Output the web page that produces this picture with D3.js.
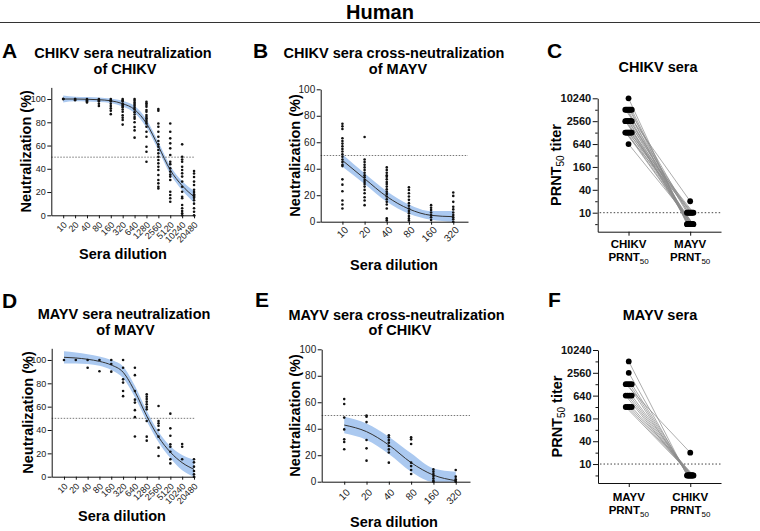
<!DOCTYPE html>
<html><head><meta charset="utf-8">
<script src="https://cdn.jsdelivr.net/npm/d3@7"></script>
<style>
body{margin:0;background:#fff}
svg{display:block}
text{font-family:"Liberation Sans",Arial,Helvetica,sans-serif}
</style>
</head><body>
<svg id="c" width="760" height="531"></svg>
<script>
// ---------- shared categories / ticks ----------
const dilutionsLong = ["10","20","40","80","160","320","640","1280","2560","5120","10240","20480"];
const dilutionsShort = ["10","20","40","80","160","320"];
const pctTicks = [0,20,40,60,80,100];
const titerTicks = [10,40,160,640,2560,10240];
const titerMinorTicks = [5,20,80,320,1280,5120];

// ---------- Panel A: CHIKV sera neutralization of CHIKV ----------
const aPoints = [
  [100,100,100],
  [100,100,99],
  [100,99,98,97],
  [100,99,98,96,94],
  [100,99,98,96,94,92,90,87],
  [100,99,98,96,95,94,93,91,89,86,84,82,78],
  [100,98.6,97,95.7,94.3,92.6,91,88.7,86.7,84.5,83,80,76,73,66.8],
  [97.7,96.3,94.8,93.4,90.5,89,86.2,84.8,83.4,82,80.5,79,76.2,71.9,67.6,59,54.7,46.1],
  [91.4,90,79,76.2,71.9,67.6,63.9,61,59,56.1,53.3,50.4,47.6,44.7,41.8,39,34.7,30.4,27.5,24.6,23],
  [79,71.9,66.2,61.9,57.6,51.9,46.1,44,40.4,37.6,35,33.3,30.4,20.3,17.4,14.6,11.7],
  [61,50.4,48,46.1,41.8,39,36.1,33.3,29,24.6,20.3,16,14.6,8.9,6,3.7,1.7,0],
  [38,36,33,29,26,22,20,18,17,16,15,13,10,6,3,0]
];
const aCurve    = [100,100,99.8,99.4,98.5,96,91,79,59.5,39,25.5,16];
const aBandLow  = [97,98,97.8,97.4,96.5,93.5,88,75.5,56,35.5,21.5,11];
const aBandHigh = [103,102,101.8,101.4,100.5,98.5,94,82.5,63,42.5,29.5,21];

// ---------- Panel B: CHIKV sera cross-neutralization of MAYV ----------
const bPoints = [
  [74,72,70,63,61,59,57,55,53,51,49,47,45,43,42,32,28,23,16,13,10],
  [64,47,45,43,41,39,37,35,33.5,31.5,30,28.5,26.5,24,21.5,18.5,16,12.5],
  [41,39,37,35,34,32,30,28.5,26.5,24.5,22.7,21,19,17,15,13,10,2.5,1],
  [26,24,21.5,19,16.5,14,12,10,8,6.3,4.3,2.5,1],
  [12.5,10.5,8.8,7,5,3.3,1.3],
  [22,19.5,15,11.3,9.3,7,5,3.3,1.8,0]
];
const bCurve    = [46.3,32.5,19,9.6,4.8,3.8];
const bBandLow  = [41.5,28.5,15,6,1.5,0];
const bBandHigh = [51,36.5,23,13,8,8];

// ---------- Panel C: CHIKV sera PRNT50 ----------
const cGroups = ["CHIKV","MAYV"];
const cChikvTiter = [10240,5120,5120,5120,5120,5120,5120,2560,2560,2560,2560,2560,2560,2560,2560,1280,1280,1280,1280,1280,1280,1280,1280,640];
const cMayvTiter  = [5,20,10,5,10,5,5,10,5,5,10,5,10,5,5,10,5,5,10,5,10,5,5,5];

// ---------- Panel D: MAYV sera neutralization of MAYV ----------
const dPoints = [
  [100],
  [100],
  [100,93.4],
  [100,90.3],
  [100,96.6,90],
  [100,93.4,83.4,80.6,73.4,69],
  [93.4,87,73.4,66,63.5,57,51,34.5],
  [70.6,68.6,66.6,64.3,62,59.7,57.7,47.7,34.3,30.9],
  [60.6,47.7,45.7,43.7,40,34.3,24.9,17.7],
  [54,41.4,35.1,27.7,25.7,21.4,14.9,11.4],
  [28,25.7,14.9],
  [14.9,12.3,8.6,4.9,2,0]
];
const dCurve    = [102.3,101.7,100.6,98.8,95.7,89.5,73,52,34,21,12,6.3];
const dBandLow  = [97,97,96.5,95,91.5,84.5,68,47.5,29.5,16,5.5,0];
const dBandHigh = [107.5,106.5,105,103,100,94.5,78,56.5,38.5,26,18.5,14.5];

// ---------- Panel E: MAYV sera cross-neutralization of CHIKV ----------
const ePoints = [
  [62.4,58.7,48.4,39.5,32,30,24.5],
  [50,49,45,31.5,25.2,15.9],
  [35,33.5,31.5,29.5,27,24.4,22,14.4],
  [33.5,32,28.5,14.4,11.8,8.8,5.8],
  [9.3,7.6,5.8,4.3,2.5,0.8,0],
  [8.8,3.8,1.8,0.5,0]
];
const eCurve    = [42.8,37.8,27.7,14.4,5,0.8];
const eBandLow  = [36.5,31.5,21,7.6,0,0];
const eBandHigh = [49,44,34,21.4,10,7.5];

// ---------- Panel F: MAYV sera PRNT50 ----------
const fGroups = ["MAYV","CHIKV"];
const fMayvTiter  = [5120,2560,1280,1280,1280,1280,640,640,640,640,320,320,320,320];
const fChikvTiter = [5,5,20,5,5,5,5,5,5,5,5,5,5,5];

// =====================================================
const svg = d3.select("#c");
const FONT_BOLD = 700;

svg.append("text").attr("x",380).attr("y",18.5).attr("text-anchor","middle")
  .attr("font-size",20).attr("font-weight",FONT_BOLD).text("Human");
svg.append("line").attr("x1",0).attr("x2",760).attr("y1",22.5).attr("y2",22.5)
  .attr("stroke","#333").attr("stroke-width",1);

function panelLetter(t,x,y){
  svg.append("text").attr("x",x).attr("y",y).attr("font-size",21)
    .attr("font-weight",FONT_BOLD).text(t);
}
function titleLines(lines){
  lines.forEach(l=>svg.append("text").attr("x",l[1]).attr("y",l[2]).attr("text-anchor","middle")
    .attr("font-size",14.5).attr("font-weight",FONT_BOLD).text(l[0]));
}

function dosePanel(cfg){
  const g = svg.append("g");
  const x = d3.scaleLinear().domain(cfg.xDomain).range(cfg.xRange);
  const y = d3.scaleLinear().domain(cfg.yDomain).range(cfg.yRange);
  const n = cfg.cats.length;
  const band = cfg.bandLow.map((v,i)=>({i, lo:v, hi:cfg.bandHigh[i]}));
  g.append("path").datum(band)
    .attr("d", d3.area().x(d=>x(d.i)).y0(d=>y(d.lo)).y1(d=>y(d.hi)).curve(d3.curveMonotoneX))
    .attr("fill","#abc9f0");
  g.append("line").attr("x1",cfg.xRange[0]).attr("x2",cfg.xRange[1])
    .attr("y1",y(50)).attr("y2",y(50))
    .attr("stroke","#555").attr("stroke-width",0.8).attr("stroke-dasharray","1.5,1.5");
  g.append("path").datum(cfg.curve.map((v,i)=>({i,v})))
    .attr("d", d3.line().x(d=>x(d.i)).y(d=>y(d.v)).curve(d3.curveMonotoneX))
    .attr("fill","none").attr("stroke","#333").attr("stroke-width",1);
  const pts = [];
  cfg.points.forEach((vals,i)=>vals.forEach(v=>pts.push({i,v})));
  g.selectAll("circle.pt").data(pts).join("circle").attr("class","pt")
    .attr("cx",d=>x(d.i)).attr("cy",d=>y(d.v)).attr("r",1.3).attr("fill","#111");
  const ya = g.append("g").attr("transform",`translate(${cfg.xRange[0]},0)`)
    .call(d3.axisLeft(y).tickValues(pctTicks).tickSize(4).tickSizeOuter(0).tickPadding(1.5));
  ya.selectAll("text").attr("font-size",cfg.tickFont).attr("fill","#222")
    .attr("font-family","'Liberation Sans',Arial,sans-serif");
  const xa = g.append("g").attr("transform",`translate(0,${cfg.yRange[0]})`)
    .call(d3.axisBottom(x).tickValues(d3.range(n)).tickFormat(i=>cfg.cats[i]).tickSize(3).tickSizeOuter(0));
  xa.selectAll("text").attr("font-size",cfg.tickFont).attr("fill","#222")
    .attr("font-family","'Liberation Sans',Arial,sans-serif")
    .attr("x",0).attr("y",0).attr("dy","0.35em").attr("text-anchor","end")
    .attr("transform",`translate(${cfg.lblOff[0]},${cfg.lblOff[1]}) rotate(-45)`);
  g.selectAll(".domain").attr("stroke","#111").attr("stroke-width",1);
  g.selectAll(".tick line").attr("stroke","#111");
  svg.append("text").attr("x",cfg.xTitle[0]).attr("y",cfg.xTitle[1]).attr("text-anchor","middle")
    .attr("font-size",14.5).attr("font-weight",FONT_BOLD).text("Sera dilution");
  const yc = (cfg.yRange[0]+cfg.yRange[1])/2;
  svg.append("text").attr("transform",`translate(${cfg.yTitleX},${yc}) rotate(-90)`)
    .attr("text-anchor","middle").attr("font-size",14.5).attr("font-weight",FONT_BOLD)
    .text("Neutralization (%)");
}

function pairPanel(cfg){
  const g = svg.append("g");
  const x = d3.scaleLinear().domain([-0.5,1.5]).range(cfg.xRange);
  const y = d3.scaleLog().base(2).domain([3.16,10240]).range(cfg.yRange);
  g.append("line").attr("x1",cfg.xRange[0]+2).attr("x2",cfg.xRange[1])
    .attr("y1",y(10)).attr("y2",y(10))
    .attr("stroke","#444").attr("stroke-width",1).attr("stroke-dasharray","1.5,2");
  function offsets(vals){
    const counts = {}, seen = {};
    vals.forEach(v=>counts[v]=(counts[v]||0)+1);
    return vals.map(v=>{
      const k = counts[v]; const j = seen[v]=(seen[v]===undefined?0:seen[v]+1);
      if(k===1) return 0;
      const span = Math.min(6.5,(k-1)*2);
      return -span/2 + span*j/(k-1);
    });
  }
  const o1 = offsets(cfg.left), o2 = offsets(cfg.right);
  const pairs = cfg.left.map((v,i)=>({a:v,b:cfg.right[i],oa:o1[i],ob:o2[i]}));
  g.selectAll("line.pair").data(pairs).join("line").attr("class","pair")
    .attr("x1",d=>x(0)+d.oa).attr("y1",d=>y(d.a))
    .attr("x2",d=>x(1)+d.ob).attr("y2",d=>y(d.b))
    .attr("stroke","#8a8a8a").attr("stroke-width",0.7);
  const dots = [];
  pairs.forEach(p=>{dots.push({c:0,v:p.a,o:p.oa});dots.push({c:1,v:p.b,o:p.ob});});
  g.selectAll("circle.d").data(dots).join("circle").attr("class","d")
    .attr("cx",d=>x(d.c)+d.o).attr("cy",d=>y(d.v)).attr("r",2.9).attr("fill","#000");
  const ya = g.append("g").attr("transform",`translate(${cfg.xRange[0]},0)`)
    .call(d3.axisLeft(y).tickValues(titerTicks).tickFormat(d3.format("d")).tickSize(5).tickSizeOuter(0).tickPadding(1.5));
  ya.selectAll("text").attr("font-size",11).attr("font-weight",FONT_BOLD).attr("fill","#111")
    .attr("font-family","'Liberation Sans',Arial,sans-serif");
  const ym = g.append("g").attr("transform",`translate(${cfg.xRange[0]},0)`)
    .call(d3.axisLeft(y).tickValues(titerMinorTicks).tickFormat("").tickSize(2.5).tickSizeOuter(0));
  ym.select(".domain").remove();
  g.append("g").attr("transform",`translate(0,${cfg.yRange[0]})`)
    .call(d3.axisBottom(x).tickValues([0,1]).tickFormat("").tickSize(4).tickSizeOuter(0));
  g.selectAll(".domain").attr("stroke","#111").attr("stroke-width",1);
  g.selectAll(".tick line").attr("stroke","#111");
  cfg.groups.forEach((name,i)=>{
    svg.append("text").attr("x",x(i)).attr("y",cfg.xLbl[0]).attr("text-anchor","middle")
      .attr("font-size",11.5).attr("font-weight",FONT_BOLD).text(name);
    const t = svg.append("text").attr("x",x(i)).attr("y",cfg.xLbl[1]).attr("text-anchor","middle")
      .attr("font-size",11.5).attr("font-weight",FONT_BOLD);
    t.append("tspan").text("PRNT");
    t.append("tspan").attr("font-size",8).attr("font-weight",400).attr("dy",2.5).text("50");
  });
  const yc = (cfg.yRange[0]+cfg.yRange[1])/2;
  const t = svg.append("text").attr("transform",`translate(${cfg.yTitleX},${yc}) rotate(-90)`)
    .attr("text-anchor","middle").attr("font-size",14.5).attr("font-weight",FONT_BOLD);
  t.append("tspan").text("PRNT");
  t.append("tspan").attr("font-size",10).attr("font-weight",400).attr("dy",3).text("50");
  t.append("tspan").attr("dy",-3).text(" titer");
}

// ---- Panel A ----
panelLetter("A",2,58);
titleLines([["CHIKV sera neutralization",123,58],["of CHIKV",125,73.5]]);
dosePanel({cats:dilutionsLong, points:aPoints, curve:aCurve, bandLow:aBandLow, bandHigh:aBandHigh,
  xDomain:[-1,11.08], xRange:[51.3,195], yDomain:[0,110], yRange:[215.3,87.4],
  tickFont:9, lblOff:[1.5,8], xTitle:[123,259], yTitleX:31});

// ---- Panel B ----
panelLetter("B",253,58);
titleLines([["CHIKV sera cross-neutralization",394,57.5],["of MAYV",398,74]]);
dosePanel({cats:dilutionsShort, points:bPoints, curve:bCurve, bandLow:bBandLow, bandHigh:bBandHigh,
  xDomain:[-0.98,5.665], xRange:[320.7,468], yDomain:[0,100], yRange:[221.7,89.3],
  tickFont:10, lblOff:[3.5,6.5], xTitle:[394,270], yTitleX:300});

// ---- Panel C ----
panelLetter("C",547,58);
titleLines([["CHIKV sera",658,71.5]]);
pairPanel({groups:cGroups, left:cChikvTiter, right:cMayvTiter,
  xRange:[597.7,721], yRange:[231.7,98.3], xLbl:[248,261], yTitleX:561});

// ---- Panel D ----
panelLetter("D",2,308);
titleLines([["MAYV sera neutralization",124,318.5],["of MAYV",125.5,335]]);
dosePanel({cats:dilutionsLong, points:dPoints, curve:dCurve, bandLow:dBandLow, bandHigh:dBandHigh,
  xDomain:[-1.04,11.085], xRange:[51.7,195], yDomain:[0,110], yRange:[476.7,348.3],
  tickFont:9, lblOff:[1.5,8], xTitle:[122,521], yTitleX:33});

// ---- Panel E ----
panelLetter("E",255,307);
titleLines([["MAYV sera cross-neutralization",396.5,319.5],["of CHIKV",400,335]]);
dosePanel({cats:dilutionsShort, points:ePoints, curve:eCurve, bandLow:eBandLow, bandHigh:eBandHigh,
  xDomain:[-1.01,5.64], xRange:[321.7,470], yDomain:[0,100], yRange:[481.7,349.3],
  tickFont:10, lblOff:[3.5,9], xTitle:[394,527], yTitleX:299.5});

// ---- Panel F ----
panelLetter("F",548,307);
titleLines([["MAYV sera",660,320]]);
pairPanel({groups:fGroups, left:fMayvTiter, right:fChikvTiter,
  xRange:[598,721], yRange:[483,350], xLbl:[501,514], yTitleX:562});
</script>
</body></html>
